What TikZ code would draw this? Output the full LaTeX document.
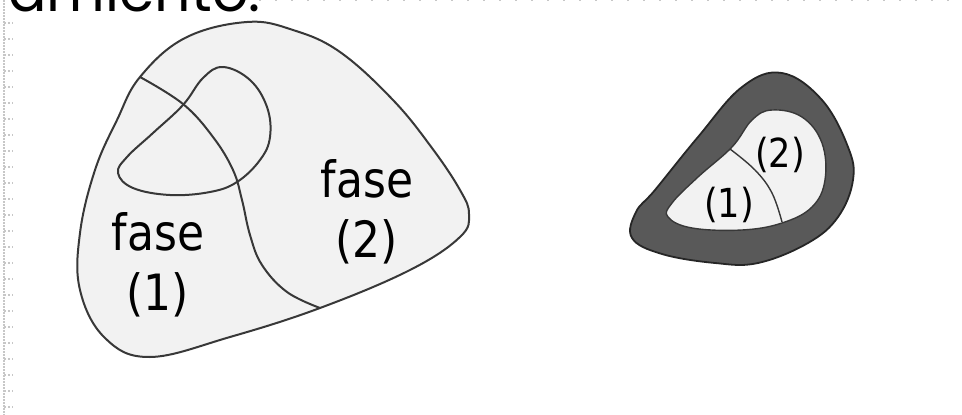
\documentclass[tikz,border=0pt]{standalone}
\usepackage{fontspec}
\newfontfamily\phasefont[FakeStretch=0.88]{DejaVu Sans}
\newfontfamily\headfont{Poppins}

\begin{document}
\begin{tikzpicture}[x=1pt,y=-1pt,
region/.style={%
draw=black!78,
line width=2pt,
fill=black!5,
},
boundary/.style={%
draw=black!78,
line width=2pt,
},
phase/.style={%
font=\phasefont\fontsize{50}{60}\selectfont,
align=center,
text=black,
},
small/.style={%
font=\phasefont\fontsize{40}{44}\selectfont,
text=black,
},
guide/.style={%
black!22,
line width=1.8pt,
},
]
\useasboundingbox (0,0) rectangle (962,415);
\clip (0,0) rectangle (962,415);
%% Slide guides
\draw[guide,dash pattern=on 1.5pt off 1.5pt] (4,0)--(4,415);
\foreach \y in {23,39,...,415}{%
\draw[guide,dash pattern=on 2pt off 2pt] (4,\y)--(13,\y);
}
\draw[guide,dash pattern=on 2pt off 14pt] (243,0.5)--(962,0.5);
\node[anchor=base west,inner sep=0pt,font=\headfont\fontsize{57}{60}\selectfont] (head) at (8,12) {amiento:};
%% Left: two phases
\draw[region] plot[smooth cycle,tension=0.65] coordinates {
(247,22) (293,30) (340,52) (393,100) (432,148) (460,190) (469,214)
(460,237) (410,270) (320,308) (230,337) (150,357) (105,338)
(80,290) (80,233) (95,170) (117,120) (140,77) (185,38)};
\draw[boundary] plot[smooth,tension=0.65] coordinates {
(140,77) (183,104) (213,137) (233,170) (242,200) (250,235)
(262,265) (287,292) (320,308)};
\draw[boundary] plot[smooth cycle,tension=0.65] coordinates {
(223,67) (250,80) (267,107) (270,137) (260,160) (237,182) (210,192)
(170,195) (133,188) (118,173) (127,157) (153,133) (183,105) (203,78)};
\node[phase] (fase1) at (158,265) {fase\\(1)};
\node[phase] (fase2) at (367,212) {fase\\(2)};
%% Right: phases in a shell
\draw[draw=black!85,line width=1.8pt,fill=black!65] plot[smooth cycle,tension=0.65] coordinates {
(782,73) (822,100) (848,147) (853,180) (838,217) (808,243) (758,263)
(715,263) (662,254) (632,238) (636,212) (655,190) (698,137) (742,87)};
\draw[region,line width=1.4pt] plot[smooth cycle,tension=0.65] coordinates {
(772,110) (802,117) (822,143) (825,180) (812,207) (782,223) (742,230)
(692,228) (668,217) (672,203) (698,177) (732,147) (752,120)};
\draw[boundary,line width=1.4pt] plot[smooth,tension=0.65] coordinates {
(730,149) (755,170) (772,193) (782,222)};
\node[small] (r1) at (729,205) {(1)};
\node[small] (r2) at (780,155) {(2)};
\end{tikzpicture}
\end{document}
